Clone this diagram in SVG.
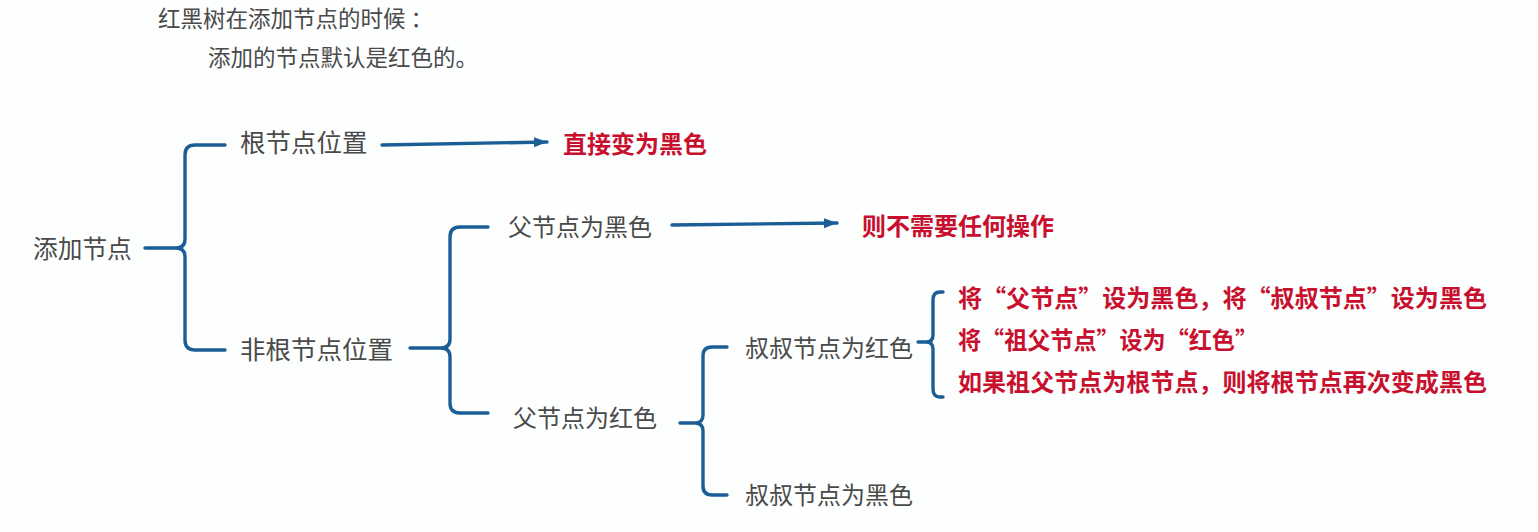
<svg xmlns="http://www.w3.org/2000/svg" width="1538" height="532" viewBox="0 0 1538 532">
<style>
text{font-family:"Noto Sans CJK SC","Noto Sans CJK JP",sans-serif;}
.t{fill:#4a4a4a;font-size:24px;}
.big{font-size:25.5px;}
.h{fill:#4a4a4a;font-size:22.5px;}
.r{fill:#c8102e;font-size:24px;font-weight:bold;}
.b{fill:none;stroke:#1b5e96;stroke-width:3.4;stroke-linecap:round;stroke-linejoin:round;}
</style>
<defs>
<marker id="ah" markerWidth="14" markerHeight="12" refX="13" refY="5" orient="auto" markerUnits="userSpaceOnUse">
<path d="M0,0 L13,5 L0,10 Z" fill="#1b5e96"/>
</marker>
</defs>
<rect width="1538" height="532" fill="#fdfefe"/>
<g id="title">
<text class="h" x="158" y="27">红黑树在添加节点的时候 ：</text>
<text class="h" x="208" y="66">添加的节点默认是红色的。</text>
</g>
<g id="n-add"><text class="t" x="33" y="258" style="font-size:24.7px">添加节点</text></g>
<g id="n-root"><text class="t big" x="240" y="152">根节点位置</text></g>
<g id="n-root-res"><text class="r" x="563" y="153">直接变为黑色</text></g>
<g id="n-nonroot"><text class="t big" x="240" y="359">非根节点位置</text></g>
<g id="n-pblack"><text class="t" x="508" y="236">父节点为黑色</text></g>
<g id="n-pblack-res"><text class="r" x="862" y="235">则不需要任何操作</text></g>
<g id="n-pred"><text class="t" x="513" y="427">父节点为红色</text></g>
<g id="n-ured"><text class="t" x="745" y="357">叔叔节点为红色</text></g>
<g id="n-ublack"><text class="t" x="745" y="504">叔叔节点为黑色</text></g>
<g id="n-ured-res">
<text class="r" x="958" y="307" textLength="529" lengthAdjust="spacingAndGlyphs">将“父节点”设为黑色，将“叔叔节点”设为黑色</text>
<text class="r" x="958" y="349" textLength="300" lengthAdjust="spacingAndGlyphs">将“祖父节点”设为“红色”</text>
<text class="r" x="958" y="391" textLength="529" lengthAdjust="spacingAndGlyphs">如果祖父节点为根节点，则将根节点再次变成黑色</text>
</g>
<g id="connectors">
<path class="b" d="M145,248 H176 Q185,248 185,239 V155 Q185,145 195,145 H225 M176,248 Q185,248 185,257 V340 Q185,350 195,350 H225"/>
<path class="b" d="M410,348 H441 Q450,348 450,339 V237 Q450,227 460,227 H488 M441,348 Q450,348 450,357 V403 Q450,413 460,413 H488"/>
<path class="b" d="M680,423 H695 Q703,423 703,415 V356 Q703,347 712,347 H727 M695,423 Q703,423 703,431 V486 Q703,495 712,495 H727"/>
<path class="b" d="M918,342 H926 Q933,342 933,335 V300 Q933,292 940,292 H943 M926,342 Q933,342 933,349 V389 Q933,397 940,397 H943"/>
<line class="b" x1="382" y1="145" x2="547" y2="142" marker-end="url(#ah)"/>
<line class="b" x1="672" y1="225" x2="837" y2="223" marker-end="url(#ah)"/>
</g>
</svg>
